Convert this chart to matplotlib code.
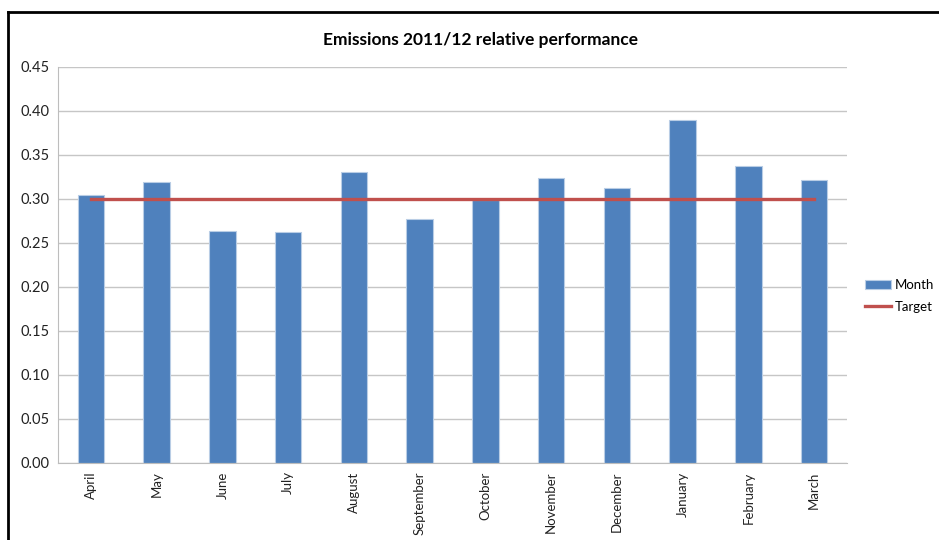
import matplotlib.pyplot as plt
from matplotlib.lines import Line2D

plt.rcParams['font.family'] = ['Lato', 'DejaVu Sans']

months = ['April', 'May', 'June', 'July', 'August', 'September', 'October',
          'November', 'December', 'January', 'February', 'March']
month_vals = [0.304, 0.319, 0.264, 0.263, 0.331, 0.277, 0.299,
              0.324, 0.312, 0.390, 0.337, 0.322]
target_vals = [0.30] * 12
yticks = [0.00, 0.05, 0.10, 0.15, 0.20, 0.25, 0.30, 0.35, 0.40, 0.45]

fig = plt.figure(figsize=(9.39, 5.4), dpi=100)
ax = fig.add_axes([0.0618, 0.1426, 0.8402, 0.7334])

x = list(range(len(months)))
bars = ax.bar(x, month_vals, width=0.4, color='#4F81BD', edgecolor='#B9CDE5',
              linewidth=0.8, label='Month', zorder=2)
line, = ax.plot(x, target_vals, color='#C0504D', linewidth=2.4, label='Target', zorder=3)

ax.set_xlim(-0.5, len(months) - 0.5)
ax.set_ylim(0, 0.45)
ax.set_yticks(yticks)
ax.set_yticklabels(['%.2f' % v for v in yticks], fontsize=10.5, color='#222222')
ax.set_xticks(x)
ax.set_xticklabels(months, rotation=90, fontsize=9.5, color='#222222')
ax.tick_params(axis='both', length=0, pad=6)
ax.yaxis.grid(True, color='#C6C6C6', linewidth=1.0, zorder=0)
ax.set_axisbelow(True)
for side in ['top', 'right']:
    ax.spines[side].set_visible(False)
ax.spines['left'].set_color('#BDBDBD')
ax.spines['bottom'].set_color('#BDBDBD')

fig.text(0.512, 0.925, 'Emissions 2011/12 relative performance',
         ha='center', va='center', fontsize=12.5, fontweight='bold')

fig.legend([bars, line], ['Month', 'Target'], loc='center left',
           bbox_to_anchor=(0.914, 0.452), frameon=False, borderpad=0,
           fontsize=9.5, handlelength=2.0, handleheight=0.6, labelspacing=0.7,
           handletextpad=0.25)

# black frame along top and left edge
fig.add_artist(Line2D([0.0085, 1.0], [0.978, 0.978], color='black', linewidth=2))
fig.add_artist(Line2D([0.0085, 0.0085], [0.0, 0.978], color='black', linewidth=2))

fig.savefig('out.png', dpi=100)
